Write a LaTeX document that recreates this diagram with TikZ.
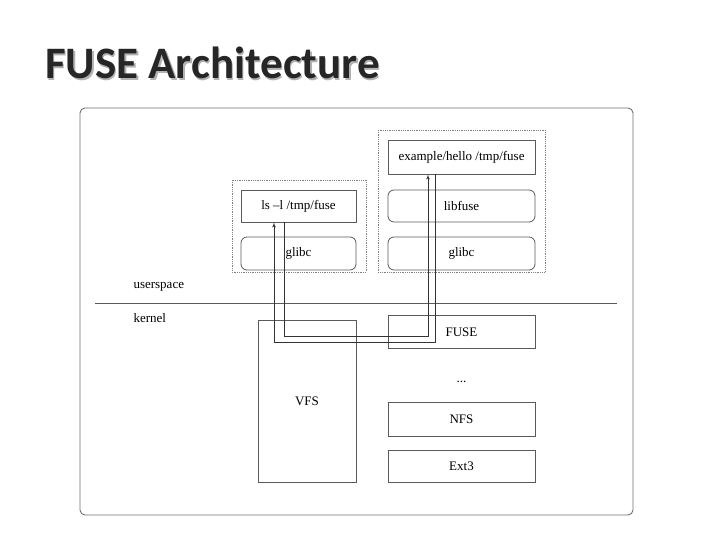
\documentclass[tikz,border=0pt]{standalone}
\usepackage{fontspec}
\setmainfont{Liberation Serif}
\newfontfamily\titlefont{Carlito}
\usetikzlibrary{arrows}

\begin{document}
\begin{tikzpicture}[x=1pt,y=-1pt,>=latex']

\definecolor{framegray}{RGB}{110,110,110}
\definecolor{boxgray}{RGB}{90,90,90}

\tikzset{
    layer/.style={draw=boxgray, line width=0.8pt, font=\fontsize{13}{15}\selectfont},
    lib/.style={layer, rounded corners=6pt},
    group/.style={draw=gray, densely dotted, line width=0.8pt},
    call/.style={draw=black!80, line width=0.7pt},
    label/.style={font=\fontsize{13}{15}\selectfont, anchor=west}
}

\useasboundingbox (0,0) rectangle (720,540);

% Title
\node[font=\titlefont\bfseries\fontsize{45}{50}\selectfont, text=gray!60, anchor=west, inner sep=0pt] (shadow) at (46.5,64.5) {FUSE Architecture};
\node[font=\titlefont\bfseries\fontsize{45}{50}\selectfont, text=black!85, anchor=west, inner sep=0pt] (title) at (45,63) {FUSE Architecture};

% Frame
\draw[framegray, line width=0.9pt, rounded corners=5pt] (80,108) rectangle (633,515);

% --- userspace groups ---
\draw[group] (232,180) rectangle (366,272);
\draw[group] (378,130) rectangle (545,272);

\node[layer, minimum width=115pt, minimum height=32pt] (ls) at (298.5,206) {ls --l /tmp/fuse};
\node[lib, minimum width=115pt, minimum height=33pt] (glibcL) at (298.5,253.5) {glibc};

\node[layer, minimum width=147pt, minimum height=34pt] (hello) at (461.5,157) {example/hello /tmp/fuse};
\node[lib, minimum width=147pt, minimum height=32pt] (libfuse) at (461.5,206) {libfuse};
\node[lib, minimum width=147pt, minimum height=33pt] (glibcR) at (461.5,253.5) {glibc};

% Divider
\draw[boxgray, line width=0.8pt] (95,303) -- (617,303);
\node[label] (user) at (130,287) {userspace};
\node[label] (kern) at (130,318) {kernel};

% --- kernel ---
\node[layer, minimum width=98pt, minimum height=162pt] (vfs) at (307,401) {VFS};
\node[layer, minimum width=147pt, minimum height=33pt] (fuse) at (461.5,332) {FUSE};
\node[font=\fontsize{13}{15}\selectfont] (dots) at (461.5,382) {...};
\node[layer, minimum width=147pt, minimum height=34pt] (nfs) at (461.5,419) {NFS};
\node[layer, minimum width=147pt, minimum height=32pt] (ext) at (461.5,466) {Ext3};

% Calls
\coordinate (lsout) at (ls.south -| 284,0);
\coordinate (helloin) at (hello.south -| 428,0);
\coordinate (helloout) at (hello.south -| 435,0);
\coordinate (lsin) at (ls.south -| 274,0);
\draw[call, ->] (lsout) |- (428,336) -- (helloin);
\draw[call, ->] (helloout) |- (274,342) -- (lsin);

\end{tikzpicture}
\end{document}
